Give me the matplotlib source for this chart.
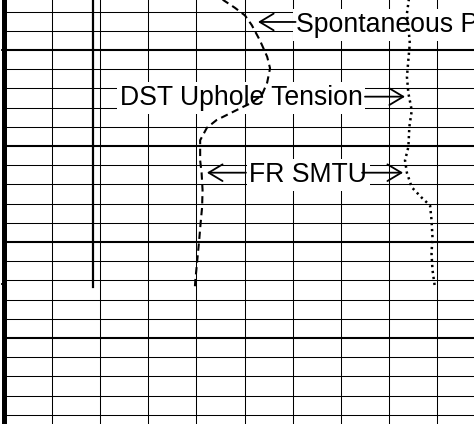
import numpy as np
import matplotlib
matplotlib.use("Agg")
import matplotlib.pyplot as plt

plt.rcParams['font.family'] = ['Liberation Sans', 'DejaVu Sans']

sp_depth = [993.8, 994.8, 995.6, 996.4, 997.4, 999.0, 1000.7, 1001.9, 1003.4, 1004.7,
            1005.5, 1005.9, 1006.6, 1007.3, 1008.1, 1009.4, 1011.5, 1012.8, 1014.6,
            1016.4, 1018.0, 1019.8, 1021.9, 1024.0, 1024.7]
sp_vals = [4.45, 4.56, 4.80, 5.01, 5.15, 5.32, 5.47, 5.53, 5.47, 5.36,
           5.15, 4.98, 4.70, 4.42, 4.22, 4.08, 4.08, 4.11, 4.13,
           4.12, 4.09, 4.06, 4.02, 3.98, 3.97]

dst_depth = [994.0, 996.2, 997.6, 999.3, 1001.0, 1002.8, 1004.5, 1006.3, 1008.0, 1010.1,
             1011.5, 1012.8, 1014.3, 1015.4, 1016.2, 1017.7, 1019.5, 1021.2, 1022.9, 1024.7]
dst_vals = [8.43, 8.37, 8.40, 8.43, 8.40, 8.37, 8.40, 8.47, 8.42, 8.40,
            8.33, 8.37, 8.47, 8.68, 8.85, 8.88, 8.90, 8.88, 8.90, 8.95]

fr_depth = [994.0, 1000.0, 1010.0, 1020.0, 1024.7]
fr_vals = [1.85, 1.85, 1.85, 1.85, 1.85]

fig = plt.figure(figsize=(4.74, 4.24), dpi=100)
ax = fig.add_axes([3.5 / 474, 0, 1 - 3.5 / 474, 1])
ax.set_xlim(0, (474 - 3.5) / 48.2)
ax.set_ylim(1000 + 374 / 9.6, 1000 - 50 / 9.6)

# grid
for v in range(1, 10):
    ax.axvline(v, color='black', lw=0.75, zorder=1)
for d in np.arange(990, 1042, 2):
    if d % 10 == 0:
        ax.axhline(d, color='black', lw=1.5, zorder=1)
    else:
        ax.axhline(d, color='black', lw=0.75, zorder=1)

for s in ['top', 'right', 'bottom']:
    ax.spines[s].set_visible(False)
ax.spines['left'].set_linewidth(3.6)
ax.spines['left'].set_zorder(6)
ax.set_xticks([])
ax.set_yticks([1000, 1024.4])
ax.set_yticklabels([])
ax.tick_params(axis='y', direction='out', length=2.5, width=1.2)

# curves sit above the label boxes
ax.plot(fr_vals, fr_depth, color='black', lw=1.6, zorder=5)
ax.plot(sp_vals, sp_depth, color='black', lw=1.5, dashes=(3.5, 2.2), zorder=5)
ax.plot(dst_vals, dst_depth, color='black', lw=1.8, dashes=(0.9, 1.5), zorder=5)

box = dict(boxstyle='square,pad=0.1', fc='white', ec='none')
fs = 19.2
ax.text(6.06, 998.13, 'Spontaneous Potential', fontsize=fs, ha='left', va='baseline',
        bbox=box, zorder=4)
ax.text(2.41, 1005.73, 'DST Uphole Tension', fontsize=fs, ha='left', va='baseline',
        bbox=box, zorder=4)
ax.text(5.10, 1013.75, 'FR SMTU', fontsize=fs, ha='left', va='baseline',
        bbox=box, zorder=4)

arr = dict(arrowstyle='->,head_length=0.5,head_width=0.3', lw=1.3, color='black',
           shrinkA=0, shrinkB=0, mutation_scale=20)
ax.annotate('', xy=(5.28, 997.08), xytext=(6.06, 997.08), arrowprops=arr, zorder=4)
ax.annotate('', xy=(8.33, 1004.86), xytext=(7.50, 1004.86), arrowprops=arr, zorder=4)
ax.annotate('', xy=(4.22, 1012.78), xytext=(5.03, 1012.78), arrowprops=arr, zorder=4)
ax.annotate('', xy=(8.29, 1012.78), xytext=(7.44, 1012.78), arrowprops=arr, zorder=4)

fig.savefig('out.png', dpi=100)
